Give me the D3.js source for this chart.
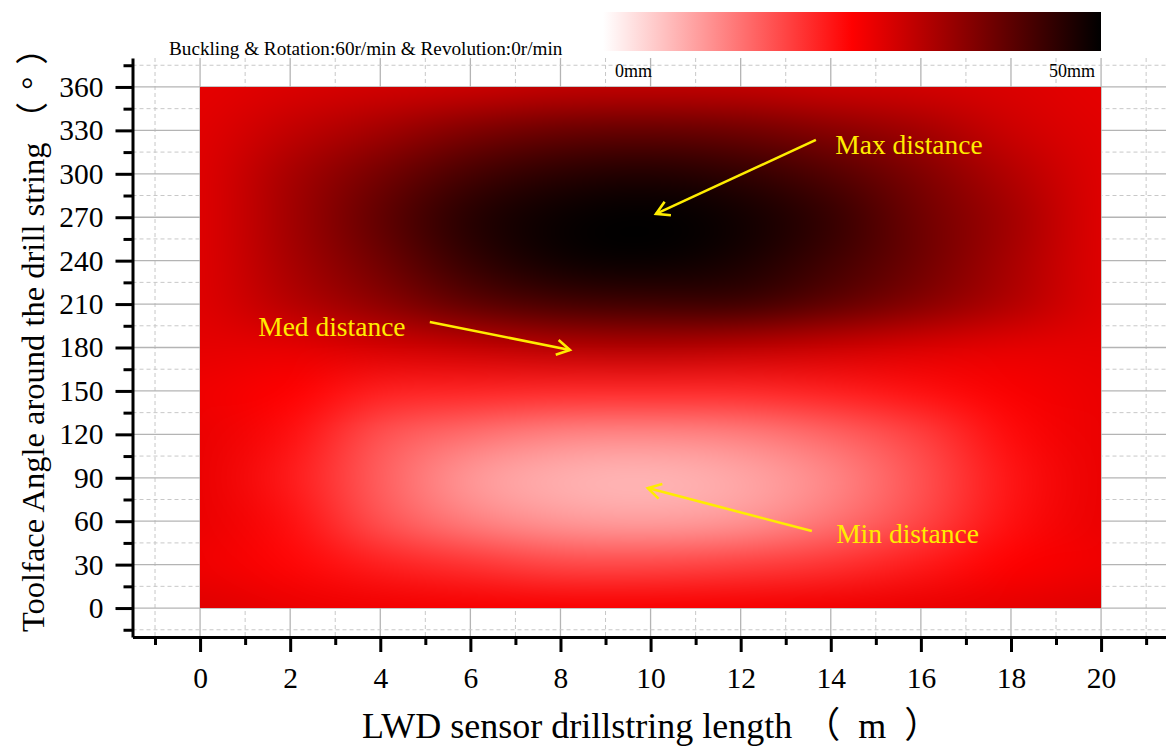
<!DOCTYPE html>
<html>
<head>
<meta charset="utf-8">
<script src="https://cdn.jsdelivr.net/npm/d3@7"></script>
<style>
  body { margin: 0; background: #fff; }
  svg { display: block; font-family: "Liberation Serif", "Noto Sans CJK SC", serif; }
</style>
</head>
<body>
<div id="chart"></div>
<script>
/* ===== Data ===== */
const lengths = [0, 2, 4, 6, 8, 10, 12, 14, 16, 18, 20];               // m
const angles = [0, 30, 60, 90, 120, 150, 180, 210, 240, 270, 300, 330, 360]; // deg
// distance (mm), one row per angle, one value per length
const distance = [
  [28, 27, 26.3, 25.8, 25.6, 25.6, 25.8, 26.3, 27, 27.5, 28],
  [26.5, 24.5, 22, 20, 18, 17.9, 18.7, 20, 22.5, 25, 26.5],
  [27, 23.5, 17, 12.5, 10, 9.3, 10.3, 13.5, 18, 23.5, 27],
  [27, 22.5, 15.6, 10, 7.7, 7.2, 8.5, 11.7, 17, 23, 27],
  [27, 23.5, 17, 14, 12, 11.7, 12.5, 15, 18.7, 24, 27],
  [26.5, 25, 22, 21.5, 21, 21, 21, 22, 23.5, 25.5, 27],
  [27.5, 27.5, 29, 30.5, 32, 32.5, 31.5, 30, 28.5, 27.5, 27.5],
  [28, 32, 36, 40.5, 43, 43.7, 43.7, 40.5, 36.7, 32.5, 28],
  [28, 33.5, 39, 45, 48.5, 49.2, 47.6, 43.7, 39, 33.5, 28],
  [28, 34, 40.5, 46.4, 49.2, 50, 48.4, 44.8, 39, 34, 28],
  [28, 33.5, 38.5, 43.2, 46, 46.9, 45.3, 42, 37.5, 32.5, 28],
  [27.8, 31, 34, 37.5, 39.5, 40, 39, 36.7, 34, 30, 27.8],
  [27.5, 28.5, 29.4, 30, 31, 31.2, 31, 30, 29.4, 28.5, 27.5]
];
const xMajorTicks = [0, 2, 4, 6, 8, 10, 12, 14, 16, 18, 20];
const xMinorTicks = [-1, 1, 3, 5, 7, 9, 11, 13, 15, 17, 19, 21];
const yMajorTicks = [0, 30, 60, 90, 120, 150, 180, 210, 240, 270, 300, 330, 360];
const yMinorTicks = [-15, 15, 45, 75, 105, 135, 165, 195, 225, 255, 285, 315, 345, 375];
const colorStops = [0, 25, 50];
const colorRange = ["#ffffff", "#ff0000", "#000000"];
const notes = [
  {label: "Max distance", tx: 14.1, ty: 314, from: [13.67, 323.4], to: [10.12, 272.3]},
  {label: "Med distance", tx: 1.29, ty: 188, from: [5.1, 197.6], to: [8.21, 178.3]},
  {label: "Min distance", tx: 14.12, ty: 45, from: [13.58, 53.2], to: [9.94, 82.9]}
];

/* ===== Setup ===== */
const W = 1166, H = 747;
const svg = d3.select("#chart").append("svg").attr("width", W).attr("height", H);

const x = d3.scaleLinear().domain([-1.5, 21.5]).range([132.5, 132.5 + 23 * 45.05]);
const y = d3.scaleLinear().domain([-20, 380]).range([637, 58]);
const color = d3.scaleLinear().domain(colorStops).range(colorRange);

// Grid lines (solid on majors, dashed on minors)
const grid = svg.append("g");
grid.selectAll(".vmaj").data(xMajorTicks).join("line")
    .attr("x1", d => x(d)).attr("x2", d => x(d))
    .attr("y1", y(380)).attr("y2", y(-20))
    .attr("stroke", "#b4b4b4").attr("stroke-width", 1.3);
grid.selectAll(".vmin").data(xMinorTicks).join("line")
    .attr("x1", d => x(d)).attr("x2", d => x(d))
    .attr("y1", y(380)).attr("y2", y(-20))
    .attr("stroke", "#c8c8c8").attr("stroke-width", 1).attr("stroke-dasharray", "4,3");
grid.selectAll(".hmaj").data(yMajorTicks).join("line")
    .attr("x1", x(-1.5)).attr("x2", W)
    .attr("y1", d => y(d)).attr("y2", d => y(d))
    .attr("stroke", "#b4b4b4").attr("stroke-width", 1.3);
grid.selectAll(".hmin").data(yMinorTicks).join("line")
    .attr("x1", x(-1.5)).attr("x2", W)
    .attr("y1", d => y(d)).attr("y2", d => y(d))
    .attr("stroke", "#c8c8c8").attr("stroke-width", 1).attr("stroke-dasharray", "4,3");

// Heat map: one pixel per grid cell on a tiny canvas, stretched with the
// browser's high quality smoothing, then clipped to the data extent
const defs = svg.append("defs");
defs.append("clipPath").attr("id", "plotClip").append("rect")
    .attr("x", x(0)).attr("y", y(360))
    .attr("width", x(20) - x(0)).attr("height", y(0) - y(360));

const small = document.createElement("canvas");
small.width = lengths.length;
small.height = angles.length;
const sctx = small.getContext("2d");
angles.forEach((a, i) => {
    lengths.forEach((l, j) => {
        sctx.fillStyle = color(distance[i][j]);
        sctx.fillRect(j, angles.length - 1 - i, 1, 1);
    });
});
const imgX = x(-1), imgY = y(375);
const imgW = x(21) - x(-1), imgH = y(-15) - y(375);
const big = document.createElement("canvas");
big.width = Math.round(imgW);
big.height = Math.round(imgH);
const bctx = big.getContext("2d");
bctx.imageSmoothingEnabled = true;
bctx.imageSmoothingQuality = "high";
bctx.drawImage(small, 0, 0, big.width, big.height);

svg.append("g").attr("clip-path", "url(#plotClip)")
   .append("image")
   .attr("href", big.toDataURL())
   .attr("preserveAspectRatio", "none")
   .attr("x", imgX).attr("y", imgY)
   .attr("width", imgW).attr("height", imgH);

// Axes
const axisFont = "29.5px";
function styleAxis(g) {
    g.select(".domain").attr("stroke", "#000").attr("stroke-width", 3);
    g.selectAll(".tick line").attr("stroke", "#000").attr("stroke-width", 3);
    g.selectAll("text").attr("font-family", "Liberation Serif").attr("font-size", axisFont).attr("fill", "#000");
}
svg.append("g").attr("transform", `translate(${x(-1.5)},0)`)
   .call(d3.axisLeft(y).tickValues(yMajorTicks).tickSize(17).tickSizeOuter(0).tickPadding(12))
   .call(styleAxis);
svg.append("g").attr("transform", `translate(${x(-1.5)},0)`)
   .call(d3.axisLeft(y).tickValues(yMinorTicks).tickSize(9).tickFormat(() => "").tickSizeOuter(0))
   .call(styleAxis).select(".domain").remove();
svg.append("g").attr("transform", `translate(0,${y(-20)})`)
   .call(d3.axisBottom(x).tickValues(xMajorTicks).tickSize(15).tickSizeOuter(0).tickPadding(15))
   .call(styleAxis);
svg.append("g").attr("transform", `translate(0,${y(-20)})`)
   .call(d3.axisBottom(x).tickValues(xMinorTicks).tickSize(8).tickFormat(() => "").tickSizeOuter(0))
   .call(styleAxis).select(".domain").remove();

// Axis titles
const xTitle = svg.append("text").attr("x", 362).attr("y", 738).attr("font-size", 36);
xTitle.append("tspan").text("LWD sensor drillstring length");
xTitle.append("tspan").attr("dx", 12).text("（");
xTitle.append("tspan").attr("dx", 18).text("m");
xTitle.append("tspan").attr("dx", 18).text("）");
const yTitle = svg.append("text").attr("transform", "translate(44,632) rotate(-90)")
   .attr("font-size", 32.5);
yTitle.append("tspan").text("Toolface Angle around the drill string");
yTitle.append("tspan").attr("dx", 8).text("（");
yTitle.append("tspan").attr("dx", 12).text("°");
yTitle.append("tspan").attr("dx", 12).text("）");

// Title
svg.append("text").attr("x", 169).attr("y", 55).attr("font-size", 19.2)
   .text("Buckling & Rotation:60r/min & Revolution:0r/min");

// Colour bar
const cb = d3.scaleLinear().domain([0, 50]).range([603, 1101]);
const grad = defs.append("linearGradient").attr("id", "cbGrad");
grad.selectAll("stop").data(colorStops).join("stop")
    .attr("offset", d => (d / 50 * 100) + "%")
    .attr("stop-color", d => color(d));
svg.append("rect").attr("x", cb(0)).attr("y", 12)
   .attr("width", cb(50) - cb(0)).attr("height", 39)
   .attr("fill", "url(#cbGrad)");
svg.append("text").attr("x", cb(0) + 12).attr("y", 77).attr("font-size", 18).text("0mm");
svg.append("text").attr("x", cb(50) - 6).attr("y", 77).attr("font-size", 18)
   .attr("text-anchor", "end").text("50mm");

// Annotations
const yellow = "#ffec00";
const ann = svg.append("g");
notes.forEach(n => {
    const x1 = x(n.from[0]), y1 = y(n.from[1]), x2 = x(n.to[0]), y2 = y(n.to[1]);
    const ang = Math.atan2(y2 - y1, x2 - x1);
    const len = 15, spread = Math.PI / 6;
    ann.append("line").attr("x1", x1).attr("y1", y1).attr("x2", x2).attr("y2", y2)
       .attr("stroke", yellow).attr("stroke-width", 2.6);
    ann.append("path")
       .attr("d", `M${x2 - len * Math.cos(ang - spread)},${y2 - len * Math.sin(ang - spread)}L${x2},${y2}L${x2 - len * Math.cos(ang + spread)},${y2 - len * Math.sin(ang + spread)}`)
       .attr("fill", "none").attr("stroke", yellow).attr("stroke-width", 2.6);
    ann.append("text").attr("x", x(n.tx)).attr("y", y(n.ty))
       .attr("font-size", 27.5).attr("fill", yellow).text(n.label);
});
</script>
</body>
</html>
